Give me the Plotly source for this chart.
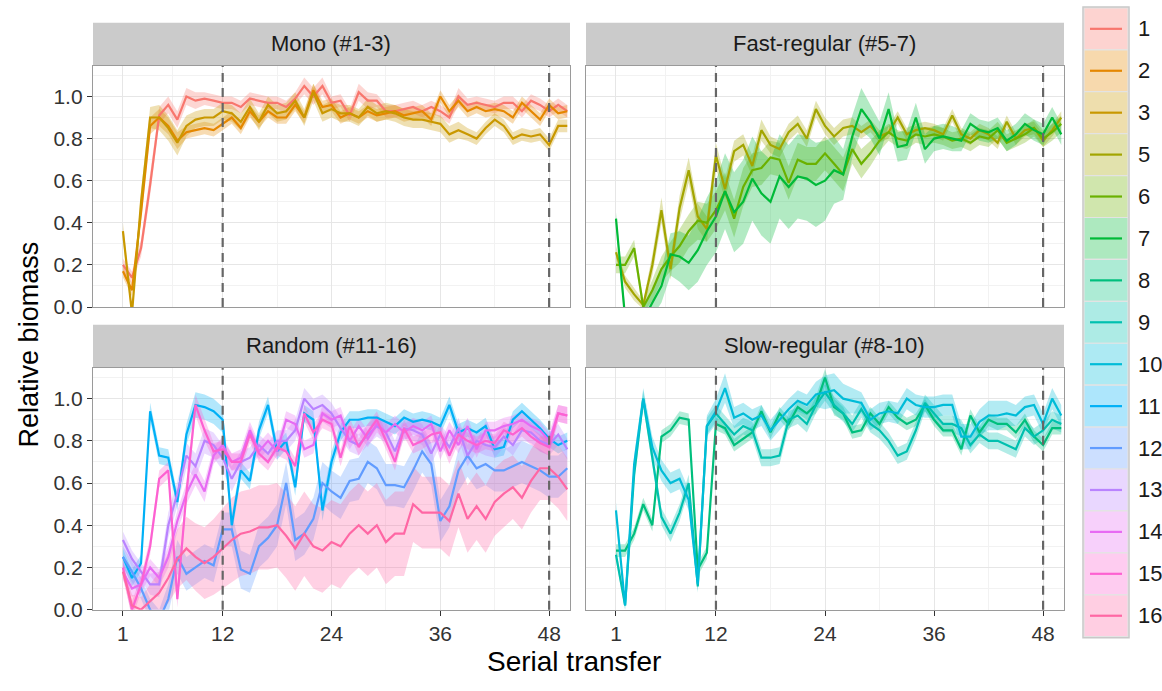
import plotly.graph_objects as go

W, H = 1162, 691

# ---------------- data ----------------
transfer = list(range(1, 51))

series_names = ["1", "2", "3", "5", "6", "7", "8", "9", "10", "11", "12", "13", "14", "15", "16"]
series_colors = ["#F8766D", "#E58700", "#C99800", "#A3A500", "#6BB100", "#00BA38", "#00BF7D",
                 "#00C0AF", "#00BCD8", "#00B0F6", "#619CFF", "#B983FF", "#E76BF3", "#FD61D1", "#FF67A4"]

panel_titles = ["Mono (#1-3)", "Fast-regular (#5-7)", "Random (#11-16)", "Slow-regular (#8-10)"]
panel_members = [["1", "2", "3"], ["5", "6", "7"], ["11", "12", "13", "14", "15", "16"], ["8", "9", "10"]]

x_ticks = [1, 12, 24, 36, 48]
x_minor = [6.5, 18, 30, 42]
y_ticks = [0.0, 0.2, 0.4, 0.6, 0.8, 1.0]
y_minor = [0.1, 0.3, 0.5, 0.7, 0.9, 1.1]
dashed_transfers = [12, 48]

mean_1 = [0.20, 0.14, 0.28, 0.58, 0.91, 0.96, 0.89, 1.00, 0.98, 0.99,
          0.98, 0.97, 0.97, 0.95, 0.99, 0.98, 0.97, 0.97, 0.95, 0.99,
          1.05, 1.00, 1.05, 0.97, 0.98, 0.91, 1.02, 0.98, 0.98, 0.93,
          0.93, 0.94, 0.95, 0.93, 0.95, 0.93, 0.90, 1.00, 0.96, 0.97,
          0.96, 0.95, 0.97, 0.97, 0.93, 0.98, 0.96, 0.93, 0.96, 0.93]
sd_1 = [0.03, 0.03, 0.04, 0.05, 0.04, 0.04, 0.04, 0.04, 0.04, 0.03,
        0.03, 0.03, 0.03, 0.03, 0.03, 0.03, 0.03, 0.03, 0.03, 0.03,
        0.04, 0.04, 0.04, 0.03, 0.03, 0.03, 0.04, 0.04, 0.03, 0.03,
        0.03, 0.03, 0.03, 0.03, 0.03, 0.03, 0.03, 0.04, 0.03, 0.03,
        0.03, 0.03, 0.03, 0.03, 0.03, 0.03, 0.03, 0.03, 0.03, 0.03]

mean_2 = [0.17, 0.08, 0.45, 0.86, 0.90, 0.86, 0.79, 0.83, 0.84, 0.85,
          0.84, 0.87, 0.90, 0.85, 0.93, 0.88, 0.93, 0.90, 0.90, 0.96,
          0.90, 1.03, 0.95, 0.96, 0.90, 0.92, 0.90, 0.93, 0.91, 0.92,
          0.93, 0.91, 0.92, 0.93, 0.89, 1.00, 0.93, 0.98, 0.93, 0.95,
          0.93, 0.94, 0.93, 0.90, 0.97, 0.93, 0.89, 0.96, 0.92, 0.93]
sd_2 = [0.03, 0.03, 0.04, 0.04, 0.04, 0.04, 0.04, 0.03, 0.03, 0.03,
        0.03, 0.03, 0.03, 0.03, 0.03, 0.03, 0.03, 0.03, 0.03, 0.03,
        0.03, 0.03, 0.03, 0.03, 0.03, 0.03, 0.03, 0.03, 0.03, 0.03,
        0.03, 0.03, 0.03, 0.03, 0.03, 0.03, 0.03, 0.03, 0.03, 0.03,
        0.03, 0.03, 0.03, 0.03, 0.03, 0.03, 0.03, 0.03, 0.03, 0.03]

mean_3 = [0.36, -0.03, 0.50, 0.90, 0.90, 0.85, 0.78, 0.86, 0.89, 0.90,
          0.90, 0.93, 0.92, 0.88, 0.95, 0.88, 0.96, 0.92, 0.93, 0.98,
          0.90, 1.02, 0.92, 0.94, 0.92, 0.92, 0.90, 0.95, 0.92, 0.93,
          0.92, 0.90, 0.89, 0.89, 0.88, 0.87, 0.82, 0.84, 0.82, 0.80,
          0.85, 0.89, 0.86, 0.80, 0.82, 0.81, 0.82, 0.77, 0.86, 0.86]
sd_3 = [0.04, 0.03, 0.05, 0.05, 0.06, 0.06, 0.06, 0.05, 0.04, 0.04,
        0.04, 0.04, 0.04, 0.04, 0.04, 0.04, 0.04, 0.04, 0.04, 0.04,
        0.04, 0.04, 0.04, 0.04, 0.04, 0.04, 0.04, 0.04, 0.04, 0.04,
        0.04, 0.04, 0.04, 0.04, 0.04, 0.04, 0.04, 0.04, 0.03, 0.03,
        0.03, 0.03, 0.03, 0.03, 0.03, 0.03, 0.03, 0.03, 0.03, 0.03]

mean_5 = [0.26, 0.12, 0.06, 0.01, 0.20, 0.46, 0.18, 0.47, 0.65, 0.43,
          0.37, 0.72, 0.56, 0.74, 0.77, 0.67, 0.84, 0.77, 0.75, 0.83,
          0.87, 0.80, 0.94, 0.86, 0.81, 0.85, 0.86, 0.83, 0.86, 0.81,
          0.83, 0.90, 0.82, 0.84, 0.85, 0.84, 0.82, 0.91, 0.82, 0.80,
          0.84, 0.82, 0.78, 0.88, 0.80, 0.84, 0.85, 0.79, 0.84, 0.90]
sd_5 = [0.03, 0.03, 0.03, 0.02, 0.05, 0.06, 0.05, 0.06, 0.06, 0.06,
        0.06, 0.06, 0.05, 0.05, 0.05, 0.05, 0.05, 0.04, 0.04, 0.04,
        0.04, 0.04, 0.04, 0.04, 0.04, 0.04, 0.04, 0.03, 0.03, 0.03,
        0.03, 0.03, 0.03, 0.03, 0.03, 0.03, 0.03, 0.03, 0.03, 0.03,
        0.03, 0.03, 0.03, 0.03, 0.03, 0.03, 0.03, 0.03, 0.03, 0.03]

mean_6 = [0.20, 0.20, 0.28, 0.00, 0.08, 0.18, 0.24, 0.29, 0.36, 0.41,
          0.40, 0.46, 0.55, 0.42, 0.57, 0.65, 0.66, 0.71, 0.70, 0.59,
          0.70, 0.68, 0.68, 0.73, 0.68, 0.63, 0.75, 0.68, 0.73, 0.79,
          0.83, 0.80, 0.79, 0.82, 0.81, 0.82, 0.81, 0.79, 0.80, 0.78,
          0.81, 0.80, 0.84, 0.78, 0.80, 0.82, 0.85, 0.80, 0.83, 0.87]
sd_6 = [0.04, 0.04, 0.04, 0.03, 0.05, 0.06, 0.07, 0.08, 0.08, 0.09,
        0.09, 0.09, 0.09, 0.09, 0.09, 0.08, 0.08, 0.08, 0.08, 0.08,
        0.08, 0.08, 0.08, 0.08, 0.08, 0.08, 0.07, 0.07, 0.06, 0.05,
        0.04, 0.04, 0.04, 0.04, 0.04, 0.04, 0.04, 0.04, 0.04, 0.04,
        0.04, 0.04, 0.04, 0.04, 0.04, 0.04, 0.04, 0.04, 0.04, 0.04]

mean_7 = [0.42, -0.05, -0.10, -0.06, 0.02, 0.10, 0.25, 0.24, 0.21, 0.27,
          0.36, 0.43, 0.55, 0.45, 0.50, 0.61, 0.54, 0.50, 0.62, 0.57,
          0.62, 0.61, 0.58, 0.60, 0.65, 0.63, 0.81, 0.94, 0.88, 0.80,
          0.94, 0.76, 0.77, 0.90, 0.75, 0.80, 0.81, 0.80, 0.79, 0.87,
          0.84, 0.83, 0.85, 0.79, 0.82, 0.87, 0.84, 0.82, 0.90, 0.82]
sd_7 = [0.03, 0.05, 0.05, 0.05, 0.06, 0.08, 0.10, 0.12, 0.13, 0.15,
        0.16, 0.17, 0.18, 0.19, 0.20, 0.20, 0.20, 0.20, 0.20, 0.20,
        0.20, 0.20, 0.20, 0.19, 0.16, 0.12, 0.10, 0.10, 0.08, 0.08,
        0.08, 0.07, 0.07, 0.07, 0.07, 0.06, 0.06, 0.06, 0.05, 0.05,
        0.05, 0.05, 0.05, 0.05, 0.05, 0.05, 0.05, 0.05, 0.05, 0.05]

mean_8 = [0.28, 0.28, 0.36, 0.50, 0.40, 0.82, 0.85, 0.91, 0.90, 0.19,
          0.27, 0.88, 0.86, 0.78, 0.81, 0.84, 0.94, 0.84, 0.93, 0.88,
          0.96, 0.93, 0.97, 1.10, 0.96, 0.93, 0.84, 0.85, 0.93, 0.88,
          0.96, 0.91, 0.88, 0.90, 0.97, 0.90, 0.85, 0.85, 0.76, 0.92,
          0.84, 0.90, 0.88, 0.88, 0.84, 0.90, 0.82, 0.78, 0.86, 0.86]
sd_8 = [0.03, 0.03, 0.03, 0.03, 0.03, 0.03, 0.03, 0.03, 0.03, 0.03,
        0.03, 0.03, 0.03, 0.03, 0.03, 0.03, 0.03, 0.03, 0.03, 0.03,
        0.03, 0.03, 0.04, 0.04, 0.04, 0.03, 0.03, 0.03, 0.03, 0.03,
        0.03, 0.03, 0.03, 0.03, 0.03, 0.03, 0.03, 0.03, 0.03, 0.03,
        0.03, 0.03, 0.03, 0.03, 0.03, 0.03, 0.03, 0.03, 0.03, 0.03]

mean_9 = [0.26, 0.02, 0.64, 1.00, 0.72, 0.44, 0.36, 0.46, 0.60, 0.11,
          0.87, 0.93, 0.88, 0.83, 0.87, 0.85, 0.72, 0.72, 0.73, 0.90,
          0.92, 0.88, 0.97, 1.03, 0.97, 0.93, 0.88, 0.95, 0.88, 0.85,
          0.80, 0.73, 0.75, 0.85, 0.98, 0.93, 0.88, 0.88, 0.86, 0.78,
          0.83, 0.80, 0.80, 0.78, 0.76, 0.86, 0.82, 0.85, 0.90, 0.88]
sd_9 = [0.03, 0.02, 0.04, 0.04, 0.04, 0.04, 0.04, 0.04, 0.04, 0.03,
        0.04, 0.04, 0.04, 0.04, 0.04, 0.04, 0.04, 0.04, 0.04, 0.04,
        0.04, 0.04, 0.04, 0.04, 0.04, 0.04, 0.04, 0.04, 0.04, 0.04,
        0.04, 0.04, 0.04, 0.04, 0.04, 0.04, 0.04, 0.04, 0.04, 0.04,
        0.04, 0.04, 0.04, 0.04, 0.04, 0.04, 0.04, 0.04, 0.04, 0.04]

mean_10 = [0.47, 0.02, 0.69, 1.00, 0.77, 0.66, 0.60, 0.62, 0.52, 0.12,
           0.87, 0.94, 1.05, 0.91, 0.93, 0.90, 0.92, 0.85, 0.90, 0.95,
           0.99, 0.97, 1.02, 1.03, 1.04, 1.00, 0.99, 0.98, 0.90, 0.93,
           0.94, 0.93, 1.00, 0.97, 0.96, 0.96, 0.97, 0.97, 0.82, 0.82,
           0.89, 0.92, 0.92, 0.93, 0.92, 0.96, 0.97, 0.88, 1.00, 0.92]
sd_10 = [0.04, 0.02, 0.04, 0.05, 0.05, 0.05, 0.05, 0.05, 0.05, 0.03,
         0.05, 0.06, 0.07, 0.05, 0.05, 0.05, 0.05, 0.05, 0.05, 0.05,
         0.05, 0.05, 0.06, 0.08, 0.08, 0.07, 0.06, 0.05, 0.05, 0.05,
         0.05, 0.05, 0.05, 0.05, 0.05, 0.05, 0.05, 0.05, 0.06, 0.06,
         0.06, 0.07, 0.07, 0.06, 0.05, 0.05, 0.05, 0.05, 0.05, 0.05]

mean_11 = [0.25, 0.15, 0.22, 0.94, 0.73, 0.72, 0.51, 0.83, 0.97, 0.96,
           0.94, 0.90, 0.40, 0.66, 0.61, 0.85, 0.97, 0.75, 0.80, 0.58,
           0.93, 0.90, 0.47, 0.70, 0.84, 0.90, 0.90, 0.91, 0.91, 0.89,
           0.87, 0.91, 0.89, 0.90, 0.89, 0.87, 0.97, 0.84, 0.86, 0.84,
           0.87, 0.76, 0.77, 0.90, 0.94, 0.90, 0.86, 0.81, 0.78, 0.80]
sd_11 = [0.04, 0.04, 0.04, 0.04, 0.04, 0.04, 0.04, 0.05, 0.06, 0.06,
         0.06, 0.06, 0.05, 0.04, 0.04, 0.04, 0.04, 0.04, 0.04, 0.04,
         0.04, 0.04, 0.05, 0.05, 0.04, 0.04, 0.04, 0.04, 0.04, 0.04,
         0.04, 0.04, 0.04, 0.04, 0.04, 0.04, 0.04, 0.04, 0.04, 0.04,
         0.04, 0.04, 0.04, 0.04, 0.04, 0.04, 0.04, 0.04, 0.04, 0.04]

mean_12 = [0.25, 0.18, 0.10, 0.00, -0.05, 0.05, 0.25, 0.17, 0.20, 0.23,
           0.21, 0.38, 0.38, 0.19, 0.17, 0.30, 0.34, 0.40, 0.60, 0.33,
           0.36, 0.43, 0.60, 0.56, 0.53, 0.61, 0.62, 0.70, 0.67, 0.59,
           0.59, 0.58, 0.66, 0.75, 0.69, 0.42, 0.49, 0.66, 0.73, 0.67,
           0.69, 0.66, 0.66, 0.68, 0.70, 0.68, 0.66, 0.63, 0.63, 0.67]
sd_12 = [0.05, 0.05, 0.05, 0.05, 0.05, 0.07, 0.08, 0.08, 0.08, 0.08,
         0.08, 0.08, 0.08, 0.09, 0.09, 0.10, 0.10, 0.10, 0.10, 0.10,
         0.10, 0.10, 0.10, 0.10, 0.10, 0.10, 0.10, 0.10, 0.10, 0.10,
         0.10, 0.10, 0.10, 0.10, 0.10, 0.10, 0.10, 0.10, 0.10, 0.10,
         0.10, 0.10, 0.10, 0.10, 0.10, 0.10, 0.10, 0.10, 0.10, 0.10]

mean_13 = [0.33, 0.24, 0.18, 0.12, 0.12, 0.40, 0.55, 0.73, 0.68, 0.80,
           0.78, 0.72, 0.62, 0.70, 0.72, 0.78, 0.74, 0.80, 0.80, 0.85,
           1.00, 0.95, 0.97, 0.93, 0.86, 0.80, 0.78, 0.83, 0.87, 0.84,
           0.75, 0.86, 0.85, 0.83, 0.74, 0.83, 0.77, 0.86, 0.73, 0.80,
           0.78, 0.77, 0.82, 0.78, 0.85, 0.84, 0.80, 0.78, 0.83, 0.76]
sd_13 = [0.04, 0.04, 0.04, 0.05, 0.06, 0.06, 0.06, 0.06, 0.06, 0.06,
         0.06, 0.06, 0.06, 0.05, 0.05, 0.05, 0.05, 0.05, 0.05, 0.05,
         0.05, 0.05, 0.05, 0.05, 0.05, 0.05, 0.05, 0.05, 0.05, 0.05,
         0.05, 0.05, 0.05, 0.05, 0.05, 0.05, 0.05, 0.05, 0.05, 0.05,
         0.05, 0.05, 0.05, 0.05, 0.05, 0.05, 0.05, 0.05, 0.05, 0.05]

mean_14 = [0.18, 0.10, 0.12, 0.20, 0.15, 0.25, 0.42, 0.55, 0.64, 0.56,
           0.73, 0.78, 0.70, 0.72, 0.85, 0.75, 0.80, 0.75, 0.90, 0.88,
           0.76, 0.78, 0.93, 0.90, 0.92, 0.80, 0.87, 0.81, 0.88, 0.84,
           0.88, 0.84, 0.87, 0.85, 0.88, 0.75, 0.85, 0.78, 0.87, 0.76,
           0.85, 0.85, 0.87, 0.88, 0.90, 0.87, 0.85, 0.80, 0.93, 0.92]
sd_14 = [0.04, 0.04, 0.04, 0.04, 0.04, 0.05, 0.05, 0.05, 0.05, 0.05,
         0.04, 0.04, 0.04, 0.04, 0.04, 0.04, 0.04, 0.04, 0.04, 0.04,
         0.04, 0.04, 0.04, 0.04, 0.04, 0.04, 0.04, 0.04, 0.04, 0.04,
         0.04, 0.04, 0.04, 0.04, 0.04, 0.04, 0.04, 0.04, 0.04, 0.04,
         0.04, 0.04, 0.04, 0.04, 0.04, 0.04, 0.04, 0.04, 0.04, 0.04]

mean_15 = [0.20, 0.00, 0.12, 0.30, 0.62, 0.66, 0.05, 0.55, 0.97, 0.85,
           0.75, 0.76, 0.70, 0.70, 0.83, 0.74, 0.70, 0.77, 0.75, 0.68,
           0.93, 0.84, 0.90, 0.88, 0.72, 0.87, 0.77, 0.84, 0.90, 0.80,
           0.70, 0.86, 0.78, 0.80, 0.83, 0.84, 0.73, 0.83, 0.80, 0.78,
           0.80, 0.79, 0.85, 0.83, 0.86, 0.82, 0.79, 0.77, 0.93, 0.92]
sd_15 = [0.04, 0.04, 0.04, 0.04, 0.04, 0.04, 0.04, 0.05, 0.05, 0.05,
         0.04, 0.04, 0.04, 0.04, 0.04, 0.04, 0.04, 0.04, 0.04, 0.04,
         0.04, 0.04, 0.04, 0.04, 0.04, 0.04, 0.04, 0.04, 0.04, 0.04,
         0.04, 0.04, 0.04, 0.04, 0.04, 0.04, 0.04, 0.04, 0.04, 0.04,
         0.04, 0.04, 0.04, 0.04, 0.04, 0.04, 0.04, 0.04, 0.04, 0.04]

mean_16 = [0.18, 0.02, 0.00, 0.04, 0.08, 0.15, 0.24, 0.29, 0.25, 0.22,
           0.25, 0.29, 0.33, 0.36, 0.37, 0.39, 0.39, 0.40, 0.35, 0.29,
           0.36, 0.30, 0.28, 0.32, 0.30, 0.36, 0.40, 0.36, 0.40, 0.32,
           0.36, 0.36, 0.50, 0.46, 0.46, 0.46, 0.42, 0.55, 0.43, 0.49,
           0.43, 0.51, 0.55, 0.58, 0.53, 0.61, 0.67, 0.67, 0.63, 0.57]
sd_16 = [0.03, 0.05, 0.06, 0.08, 0.10, 0.12, 0.14, 0.15, 0.16, 0.17,
         0.18, 0.19, 0.20, 0.20, 0.20, 0.20, 0.20, 0.20, 0.20, 0.20,
         0.20, 0.20, 0.20, 0.20, 0.20, 0.20, 0.20, 0.20, 0.20, 0.20,
         0.20, 0.20, 0.18, 0.17, 0.17, 0.17, 0.17, 0.16, 0.16, 0.16,
         0.16, 0.16, 0.16, 0.15, 0.15, 0.15, 0.15, 0.15, 0.15, 0.15]

series_mean = {"1": mean_1, "2": mean_2, "3": mean_3, "5": mean_5, "6": mean_6, "7": mean_7,
               "8": mean_8, "9": mean_9, "10": mean_10, "11": mean_11, "12": mean_12,
               "13": mean_13, "14": mean_14, "15": mean_15, "16": mean_16}
series_sd = {"1": sd_1, "2": sd_2, "3": sd_3, "5": sd_5, "6": sd_6, "7": sd_7,
             "8": sd_8, "9": sd_9, "10": sd_10, "11": sd_11, "12": sd_12,
             "13": sd_13, "14": sd_14, "15": sd_15, "16": sd_16}

# ---------------- style / layout ----------------
FONT = "Liberation Sans, Arial, Helvetica, sans-serif"
RIBBON_ALPHA = 0.3


def rgba(hex_color, a):
    h = hex_color.lstrip("#")
    r, g, b = int(h[0:2], 16), int(h[2:4], 16), int(h[4:6], 16)
    return f"rgba({r},{g},{b},{a})"


def blend_white(hex_color, a):
    h = hex_color.lstrip("#")
    r, g, b = int(h[0:2], 16), int(h[2:4], 16), int(h[4:6], 16)
    r, g, b = [round(255 * (1 - a) + c * a) for c in (r, g, b)]
    return f"rgb({r},{g},{b})"


def px(xp):
    return xp / W


def py(yp):
    return 1 - yp / H


color_of = dict(zip(series_names, series_colors))

# panel pixel boxes (left, right, top, bottom)
panel_box = [(93, 570, 67, 312), (586, 1064, 67, 312), (93, 570, 374, 619.5), (586, 1064, 374, 619.5)]
strip_h = 43
x_range = [-2.3, 50.3]
y_range = [0, 1.145]

fig = go.Figure()

for pi, members in enumerate(panel_members):
    xa = "x" if pi == 0 else f"x{pi + 1}"
    ya = "y" if pi == 0 else f"y{pi + 1}"
    # ribbons first
    for name in members:
        m = series_mean[name]
        s = series_sd[name]
        upper = [a + b for a, b in zip(m, s)]
        lower = [a - b for a, b in zip(m, s)]
        fig.add_trace(go.Scatter(
            x=transfer + transfer[::-1], y=upper + lower[::-1],
            fill="toself", fillcolor=rgba(color_of[name], RIBBON_ALPHA),
            line=dict(width=0), mode="lines", hoverinfo="skip",
            showlegend=False, xaxis=xa, yaxis=ya))
    for name in members:
        fig.add_trace(go.Scatter(
            x=transfer, y=series_mean[name], mode="lines", name=name,
            line=dict(color=color_of[name], width=2.2),
            showlegend=False, xaxis=xa, yaxis=ya))

layout = dict(
    width=W, height=H, margin=dict(l=0, r=0, t=0, b=0),
    paper_bgcolor="white", plot_bgcolor="white",
    font=dict(family=FONT, color="#1a1a1a"),
    showlegend=False,
)

shapes = []
annotations = []

for pi, (l, r, t, b) in enumerate(panel_box):
    suffix = "" if pi == 0 else str(pi + 1)
    bottom_row = pi >= 2
    left_col = pi % 2 == 0
    layout["xaxis" + suffix] = dict(
        domain=[px(l), px(r)], range=x_range, anchor="y" + suffix,
        tickvals=x_ticks, ticktext=[str(v) for v in x_ticks],
        showticklabels=bottom_row, ticks="outside" if bottom_row else "",
        ticklen=5, tickwidth=1.3, tickcolor="#333333",
        tickfont=dict(size=21, color="#333333", family=FONT),
        showgrid=True, gridcolor="#E6E6E6", gridwidth=1.2,
        minor=dict(tickvals=x_minor, showgrid=True, gridcolor="#F2F2F2", gridwidth=0.8),
        showline=True, mirror=True, linecolor="#9A9A9A", linewidth=1.3,
        zeroline=False, fixedrange=True,
    )
    layout["yaxis" + suffix] = dict(
        domain=[py(b), py(t)], range=y_range, anchor="x" + suffix,
        tickvals=y_ticks, ticktext=[f"{v:.1f}" for v in y_ticks],
        showticklabels=left_col, ticks="outside" if left_col else "",
        ticklen=5, tickwidth=1.3, tickcolor="#333333",
        tickfont=dict(size=21, color="#333333", family=FONT),
        showgrid=True, gridcolor="#E6E6E6", gridwidth=1.2,
        minor=dict(tickvals=y_minor, showgrid=True, gridcolor="#F2F2F2", gridwidth=0.8),
        showline=True, mirror=True, linecolor="#9A9A9A", linewidth=1.3,
        zeroline=False, fixedrange=True,
    )
    # dashed transfer markers
    for xv in dashed_transfers:
        shapes.append(dict(type="line", xref="x" + suffix, yref="y" + suffix + " domain",
                           x0=xv, x1=xv, y0=0, y1=1,
                           line=dict(color="#666666", width=2.2, dash="9px,6px"), layer="above"))
    # strip
    shapes.append(dict(type="rect", xref="paper", yref="paper",
                       x0=px(l), x1=px(r), y0=py(t - 1), y1=py(t - 1 - strip_h),
                       fillcolor="#CBCBCB", line=dict(width=0), layer="above"))
    annotations.append(dict(xref="paper", yref="paper", x=(px(l) + px(r)) / 2,
                            y=py(t - 1 - strip_h / 2), text=panel_titles[pi], showarrow=False,
                            font=dict(size=22, color="#1a1a1a", family=FONT),
                            xanchor="center", yanchor="middle"))

# axis titles
annotations.append(dict(xref="paper", yref="paper", x=px(574), y=py(672), text="Serial transfer",
                        showarrow=False, font=dict(size=28, color="#000000", family=FONT),
                        xanchor="center", yanchor="middle"))
annotations.append(dict(xref="paper", yref="paper", x=px(29), y=py(350), text="Relative biomass",
                        showarrow=False, textangle=-90, font=dict(size=27, color="#000000", family=FONT),
                        xanchor="center", yanchor="middle"))

# manual legend (keys drawn from series_names / series_colors)
leg_l, leg_r, leg_t = 1084, 1128, 8
key_h = 42.6
n_keys = len(series_names)
for i, (name, col) in enumerate(zip(series_names, series_colors)):
    y0 = leg_t + i * key_h
    shapes.append(dict(type="rect", xref="paper", yref="paper",
                       x0=px(leg_l), x1=px(leg_r), y0=py(y0), y1=py(y0 + key_h),
                       fillcolor=blend_white(col, 0.32), line=dict(color="#E3E3E3", width=1.2)))
    shapes.append(dict(type="line", xref="paper", yref="paper",
                       x0=px(leg_l + 6), x1=px(leg_r - 6), y0=py(y0 + key_h / 2), y1=py(y0 + key_h / 2),
                       line=dict(color=col, width=2.2)))
    annotations.append(dict(xref="paper", yref="paper", x=px(1136), y=py(y0 + key_h / 2),
                            text=name, showarrow=False, xanchor="left", yanchor="middle",
                            font=dict(size=22, color="#1a1a1a", family=FONT)))
shapes.append(dict(type="rect", xref="paper", yref="paper",
                   x0=px(leg_l - 1), x1=px(leg_r + 1), y0=py(leg_t - 1), y1=py(leg_t + n_keys * key_h + 1),
                   fillcolor="rgba(0,0,0,0)", line=dict(color="#C8C8C8", width=1.5)))

layout["shapes"] = shapes
layout["annotations"] = annotations
fig.update_layout(**layout)

fig.write_html("out.html")
